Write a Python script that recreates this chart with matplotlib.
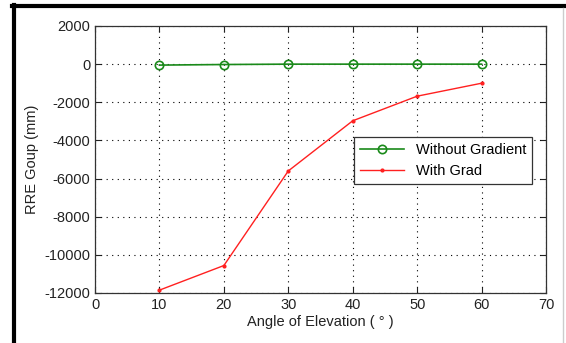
import matplotlib
matplotlib.use("Agg")
import matplotlib.pyplot as plt
from matplotlib.lines import Line2D

plt.rcParams["font.family"] = ["Liberation Sans", "DejaVu Sans"]
plt.rcParams["axes.unicode_minus"] = False

angles = [10, 20, 30, 40, 50, 60]
without_gradient = [-50, -20, 0, 0, 0, 0]
with_grad = [-11850, -10560, -5600, -2970, -1680, -1000]

fig = plt.figure(figsize=(5.66, 3.43), dpi=100)
ax = fig.add_axes([95 / 566, 1 - 293 / 343, 451 / 566, 267 / 343])

ax.plot(angles, without_gradient, "-o", color="#1a8a1a", linewidth=1.2,
        markersize=6, markerfacecolor="none", markeredgewidth=1.2,
        label="Without Gradient")
ax.plot(angles, with_grad, "-", color="#ff2020", linewidth=1.0,
        marker=".", markersize=4, label="With Grad")

ax.set_xlim(0, 70)
ax.set_ylim(-12000, 2000)
ax.set_xticks(range(0, 71, 10))
ax.set_yticks(range(-12000, 2001, 2000))
ax.grid(True, color="black", linestyle=(0, (1, 4)), linewidth=0.8)
ax.tick_params(direction="in", labelsize=10.5, colors="#222222", length=4,
               right=True, top=True)
for s in ax.spines.values():
    s.set_linewidth(0.9)
    s.set_color("#333333")

ax.set_xlabel("Angle of Elevation ( \u00b0 )", fontsize=10.5, color="#222222", labelpad=2)
ax.set_ylabel("RRE Goup (mm)", fontsize=10.5, color="#222222", labelpad=4)

leg = ax.legend(loc="upper right", bbox_to_anchor=(0.985, 0.61), fontsize=10.5,
                fancybox=False, framealpha=1, edgecolor="#333333",
                borderpad=0.4, handlelength=3.0, labelspacing=0.45)
leg.get_frame().set_linewidth(0.9)

# screenshot border
fig.add_artist(Line2D([13.5 / 566, 13.5 / 566], [0, 1 - 5 / 343], color="black", linewidth=3))
fig.add_artist(Line2D([12 / 566, 1], [1 - 6 / 343, 1 - 6 / 343], color="black", linewidth=3))
fig.add_artist(Line2D([563 / 566, 563 / 566], [0, 1 - 8 / 343], color="#cccccc", linewidth=1))

fig.savefig("out.png", dpi=100)
